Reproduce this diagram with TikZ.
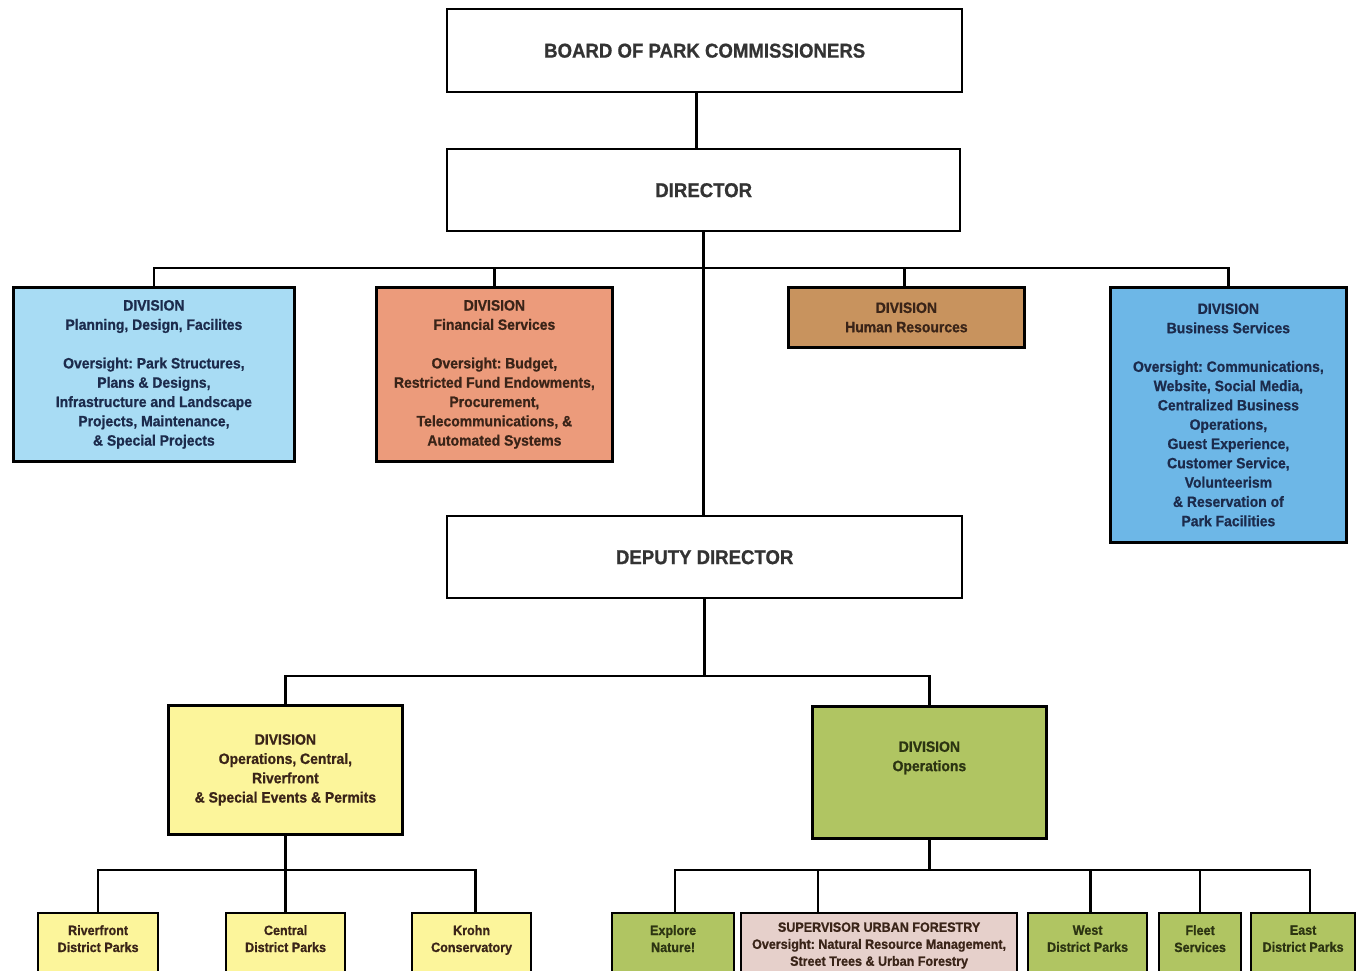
\documentclass[tikz,border=0pt]{standalone}
\usepackage{fontspec}
\setmainfont[FakeStretch=0.93, BoldFeatures={FakeBold=0.8}]{Liberation Sans}
\usetikzlibrary{positioning}
\frenchspacing

\definecolor{planblue}{HTML}{A8DCF4}
\definecolor{finsalmon}{HTML}{EC9B7B}
\definecolor{hrtan}{HTML}{C8935E}
\definecolor{busblue}{HTML}{6DB7E7}
\definecolor{opsyellow}{HTML}{FCF59B}
\definecolor{opsgreen}{HTML}{B0C562}
\definecolor{forestpink}{HTML}{E6D0CB}
\definecolor{navytext}{HTML}{1C2B4C}
\definecolor{browntext}{HTML}{3A2418}
\definecolor{olivetext}{HTML}{2C3412}

\begin{document}
\begin{tikzpicture}[x=1pt, y=-1pt,
  headbox/.style={rectangle, draw=black, line width=2.4pt, fill=white, anchor=north west, text=black!80, font=\fontsize{20}{24}\selectfont\bfseries},
  divbox/.style={rectangle, draw=black, line width=2.8pt, anchor=north west, align=center, inner sep=0pt, font=\fontsize{15}{19.3}\selectfont\bfseries},
  unitbox/.style={rectangle, draw=black, line width=2.2pt, anchor=north west, align=center, inner sep=0pt, minimum height=70pt, font=\fontsize{13.5}{17}\selectfont\bfseries},
  link/.style={line width=2.6pt}]
\useasboundingbox (0,0) rectangle (1357,971);

\node[headbox, minimum width=515pt, minimum height=83pt] (board) at (446,8) {BOARD OF PARK COMMISSIONERS};
\node[headbox, minimum width=513pt, minimum height=82pt] (director) at (446,148) {DIRECTOR};

\node[divbox, fill=planblue, text=navytext, minimum width=281pt, minimum height=174pt] (plan) at (12,286) {DIVISION\\Planning, Design, Facilites\\[19.3pt]Oversight: Park Structures,\\Plans \& Designs,\\Infrastructure and Landscape\\Projects, Maintenance,\\\& Special Projects};
\node[divbox, fill=finsalmon, text=browntext, minimum width=236pt, minimum height=174pt] (fin) at (375,286) {DIVISION\\Financial Services\\[19.3pt]Oversight: Budget,\\Restricted Fund Endowments,\\Procurement,\\Telecommunications, \&\\Automated Systems};
\node[divbox, fill=hrtan, text=browntext, minimum width=236pt, minimum height=60pt] (hr) at (787,286) {DIVISION\\Human Resources};
\node[divbox, fill=busblue, text=navytext, minimum width=236pt, minimum height=255pt] (bus) at (1109,286) {DIVISION\\Business Services\\[19.3pt]Oversight: Communications,\\Website, Social Media,\\Centralized Business\\Operations,\\Guest Experience,\\Customer Service,\\Volunteerism\\\& Reservation of\\Park Facilities};

\node[headbox, minimum width=515pt, minimum height=82pt] (deputy) at (446,515) {DEPUTY DIRECTOR};

\node[divbox, fill=opsyellow, text=browntext, minimum width=234pt, minimum height=129pt] (opsc) at (167,704) {DIVISION\\Operations, Central,\\Riverfront\\\& Special Events \& Permits};
\node[divbox, fill=opsgreen, text=olivetext, minimum width=234pt, minimum height=132pt] (ops) at (811,705) {DIVISION\\Operations\\[13pt]\mbox{}};

\node[unitbox, fill=opsyellow, text=browntext, minimum width=120pt] (river) at (37,912) {Riverfront\\District Parks\\[2pt]\mbox{}};
\node[unitbox, fill=opsyellow, text=browntext, minimum width=119pt] (cent) at (225,912) {Central\\District Parks\\[2pt]\mbox{}};
\node[unitbox, fill=opsyellow, text=browntext, minimum width=119pt] (krohn) at (411,912) {Krohn\\Conservatory\\[2pt]\mbox{}};
\node[unitbox, fill=opsgreen, text=olivetext, minimum width=122pt] (explore) at (611,912) {Explore\\Nature!\\[2pt]\mbox{}};
\node[unitbox, fill=forestpink, text=browntext, minimum width=276pt] (forest) at (740,912) {SUPERVISOR URBAN FORESTRY\\Oversight: Natural Resource Management,\\Street Trees \& Urban Forestry\\[-9pt]\mbox{}};
\node[unitbox, fill=opsgreen, text=olivetext, minimum width=119pt] (west) at (1027,912) {West\\District Parks\\[2pt]\mbox{}};
\node[unitbox, fill=opsgreen, text=olivetext, minimum width=82pt] (fleet) at (1158,912) {Fleet\\Services\\[2pt]\mbox{}};
\node[unitbox, fill=opsgreen, text=olivetext, minimum width=104pt] (east) at (1250,912) {East\\District Parks\\[2pt]\mbox{}};

\coordinate (dirbus) at (703,268);
\coordinate (depbus) at (703,676);
\coordinate (opscbus) at (284,870);
\coordinate (opsbus) at (928,870);

\draw[link] ([xshift=-8pt]board.south) -- ([xshift=-8pt]board.south |- director.north);
\draw[link] (director.south) -- (director.south |- deputy.north);
\draw[link] (plan.north) |- (dirbus) -| (bus.north);
\draw[link] (fin.north) -- (fin.north |- dirbus);
\draw[link] ([xshift=-2pt]hr.north) -- ([xshift=-2pt]hr.north |- dirbus);

\draw[link] (deputy.south) -- (deputy.south |- depbus);
\draw[link] (opsc.north) |- (depbus) -| (ops.north);

\draw[link] (opsc.south) -- (opsc.south |- opscbus);
\draw[link] (river.north) |- (opscbus) -| ([xshift=4pt]krohn.north);
\draw[link] (cent.north) -- (cent.north |- opscbus);

\draw[link] (ops.south) -- (ops.south |- opsbus);
\draw[link] ([xshift=2pt]explore.north) |- (opsbus) -| ([xshift=7pt]east.north);
\draw[link] ([xshift=78pt]forest.north west) -- ([xshift=78pt]forest.north west |- opsbus);
\draw[link] ([xshift=3pt]west.north) -- ([xshift=3pt]west.north |- opsbus);
\draw[link] (fleet.north) -- (fleet.north |- opsbus);

\end{tikzpicture}
\end{document}
